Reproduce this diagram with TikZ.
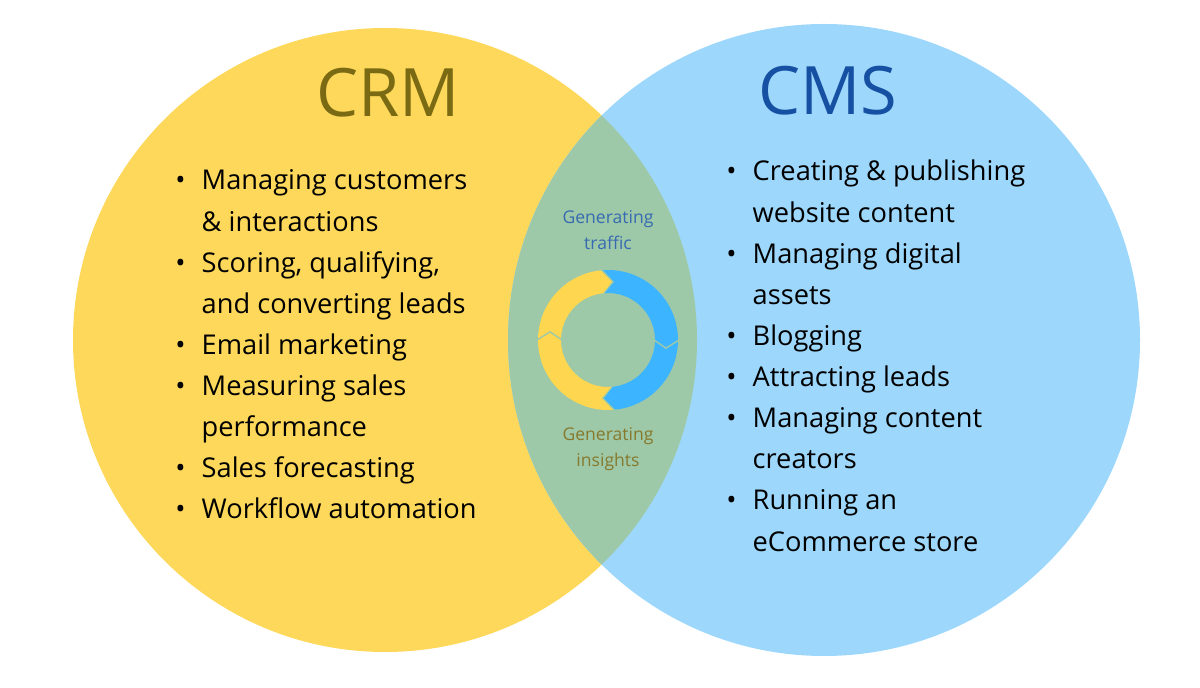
\documentclass[tikz,border=0pt]{standalone}
\usepackage{fontspec}
\setmainfont{Open Sans}
\usepackage{tikz}
\definecolor{crmyellow}{HTML}{FDD85A}
\definecolor{cmsblue}{HTML}{9DD7FB}
\definecolor{lensgreen}{HTML}{9DC9A8}
\definecolor{crmtext}{HTML}{7A6A14}
\definecolor{cmstext}{HTML}{1550A3}
\definecolor{ringblue}{HTML}{3DB4FF}
\definecolor{ringyellow}{HTML}{FFD650}
\tikzset{
  title/.style={font=\fontsize{38}{40}\selectfont},
  list/.style={anchor=base west, inner sep=0pt, font=\fontsize{15.5}{23.4}\selectfont, text=black},
  tag/.style={align=center, inner sep=0pt, font=\fontsize{10}{15}\selectfont},
}
\newcommand{\bul}{\textbullet}
\begin{document}
\begin{tikzpicture}[x=0.02cm, y=-0.02cm]
\useasboundingbox (0,0) rectangle (1200,688);
% the two sets
\fill[crmyellow] (385,340) circle (312);
\fill[cmsblue] (824,340) circle (316);
\begin{scope}
  \clip (385,340) circle (312);
  \fill[lensgreen] (824,340) circle (316);
\end{scope}
% titles
\node[title, text=crmtext] (crm) at (388,93) {CRM};
\node[title, text=cmstext] (cms) at (828,91) {CMS};
% lists
\node[list] (crmlist) at (175,190) {\begin{tabular}[t]{@{}p{15pt}@{}l@{}}
\bul & Managing customers\\
 & \& interactions\\
\bul & Scoring, qualifying,\\
 & and converting leads\\
\bul & Email marketing\\
\bul & Measuring sales\\
 & performance\\
\bul & Sales forecasting\\
\bul & Workflow automation
\end{tabular}};
\node[list] (cmslist) at (726,181) {\begin{tabular}[t]{@{}p{15pt}@{}l@{}}
\bul & Creating \& publishing\\
 & website content\\
\bul & Managing digital\\
 & assets\\
\bul & Blogging\\
\bul & Attracting leads\\
\bul & Managing content\\
 & creators\\
\bul & Running an\\
 & eCommerce store
\end{tabular}};
% overlap
\node[tag, text=cmstext!85] (traffic) at (608,230) {Generating\\traffic};
\node[tag, text=crmtext!90] (insights) at (608,449) {Generating\\insights};
\begin{scope}[shift={(608,340)}, yscale=-1]
  \fill[ringyellow] (274:70) arc (274:96:70) -- (86:58.5) -- (96:47) arc (96:274:47) -- (264:58.5) -- cycle;
  \fill[ringblue] (94:70) arc (94:-84:70) -- (-94:58.5) -- (-84:47) arc (-84:94:47) -- (84:58.5) -- cycle;
  \draw[lensgreen, line width=0.8pt] (180:71) -- (172:58.5) -- (180:46);
  \draw[lensgreen, line width=0.8pt] (0:71) -- (-8:58.5) -- (0:46);
\end{scope}
\end{tikzpicture}
\end{document}
